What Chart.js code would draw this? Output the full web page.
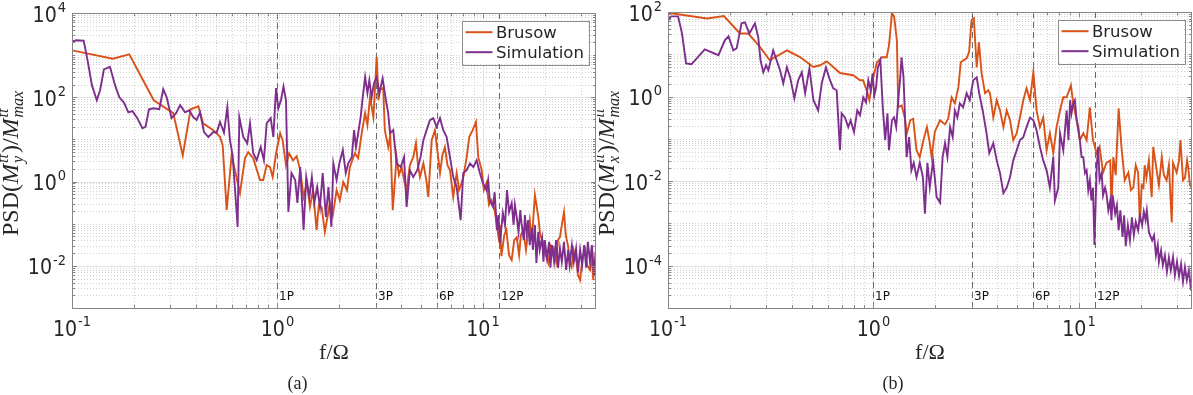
<!DOCTYPE html>
<html>
<head>
<meta charset="utf-8">
<script src="https://cdn.jsdelivr.net/npm/chart.js@4.4.1/dist/chart.umd.min.js"></script>
<style>
  body { margin: 0; background: #fff; width: 1193px; height: 395px; position: relative; overflow: hidden; }
  canvas { position: absolute; top: 0; }
  #chartA { left: 0; }
  #chartB { left: 597px; }
</style>
</head>
<body>
<canvas id="chartA" width="597" height="395"></canvas>
<canvas id="chartB" width="596" height="395"></canvas>
<script>
// ---- data (f/Omega, PSD) ----
const freqA_brusow = [0.1, 0.158, 0.19, 0.25, 0.311, 0.346, 0.378, 0.412, 0.435, 0.487,
  0.525, 0.541, 0.566, 0.598, 0.657, 0.695, 0.721, 0.762, 0.822, 0.853,
  0.886, 0.92, 0.948, 0.984, 1.03, 1.06, 1.1, 1.14, 1.19, 1.24,
  1.29, 1.34, 1.39, 1.44, 1.49, 1.55, 1.59, 1.64, 1.7, 1.8,
  1.86, 1.94, 2.01, 2.09, 2.18, 2.25, 2.38, 2.47, 2.57, 2.67,
  2.74, 2.82, 2.93, 3.04, 3.1, 3.15, 3.27, 3.33, 3.46, 3.54,
  3.64, 3.8, 3.9, 4.02, 4.13, 4.25, 4.41, 4.58, 4.72, 4.83,
  4.94, 5.13, 5.3, 5.42, 5.63, 5.84, 6.0, 6.18, 6.35, 6.53,
  6.72, 6.91, 7.17, 7.45, 7.65, 7.87, 8.07, 8.33, 8.58, 8.91,
  9.25, 9.49, 9.86, 10.1, 10.4, 10.7, 11.0, 11.4, 11.9, 12.1,
  12.3, 12.7, 13.0, 13.4, 13.8, 14.2, 14.6, 15.0, 15.3, 15.7,
  16.2, 16.6, 16.9, 17.3, 17.9, 18.6, 19.0, 19.7, 20.2, 20.8,
  21.4, 22.0, 22.7, 23.2, 23.7, 24.2, 24.8, 25.3, 26.0, 26.4,
  27.0, 27.6, 28.6, 29.0, 29.7, 30.5, 31.4, 32.1, 33.2, 34.0,
  34.4, 35.5];
const psdA_brusow = [1300, 820, 1050, 85, 42, 4.2, 52, 61, 24, 16.6,
  11.5, 7.3, 0.21, 4.2, 0.53, 3.6, 5.0, 3.6, 1.09, 1.09,
  2.46, 2.2, 1.28, 4.7, 14, 9.6, 2.46, 4.7, 3.2, 4.0,
  1.87, 0.43, 0.92, 0.25, 0.63, 0.071, 0.28, 0.25, 0.064, 0.31,
  0.16, 0.63, 0.36, 0.97, 0.63, 2.2, 4.7, 3.6, 14, 42,
  22, 100, 34, 900, 85, 147, 170, 16.6, 6.6, 12.6,
  0.21, 3.8, 1.43, 2.2, 1.09, 0.63, 2.46, 3.8, 8.1, 2.46,
  1.28, 2.7, 1.09, 0.43, 9.6, 16.6, 5.6, 1.6, 4.2, 6.6,
  2.46, 1.87, 0.43, 1.6, 0.63, 0.92, 1.43, 3.8, 11.4, 16.6,
  26, 3.8, 1.87, 0.63, 0.92, 0.28, 0.36, 0.21, 0.049, 0.093,
  0.017, 0.054, 0.071, 0.018, 0.0138, 0.041, 0.048, 0.018, 0.054, 0.071,
  0.024, 0.064, 0.122, 0.041, 0.48, 0.144, 0.054, 0.035, 0.018, 0.0117,
  0.031, 0.028, 0.0125, 0.041, 0.048, 0.093, 0.19, 0.054, 0.028, 0.0125,
  0.0095, 0.024, 0.0117, 0.0061, 0.0046, 0.015, 0.024, 0.0105, 0.008, 0.018,
  0.0046, 0.024];

const freqA_sim = [0.1, 0.105, 0.114, 0.119, 0.125, 0.132, 0.137, 0.143, 0.153, 0.162,
  0.17, 0.179, 0.188, 0.197, 0.208, 0.22, 0.228, 0.237, 0.249, 0.266,
  0.278, 0.289, 0.305, 0.321, 0.336, 0.355, 0.372, 0.389, 0.404, 0.42,
  0.439, 0.461, 0.487, 0.506, 0.525, 0.549, 0.57, 0.587, 0.605, 0.64,
  0.652, 0.682, 0.713, 0.735, 0.762, 0.792, 0.829, 0.859, 0.886, 0.927,
  0.955, 0.984, 1.01, 1.04, 1.07, 1.1, 1.13, 1.17, 1.22, 1.25,
  1.29, 1.34, 1.38, 1.43, 1.47, 1.51, 1.56, 1.61, 1.66, 1.72,
  1.77, 1.83, 1.87, 1.94, 2.0, 2.08, 2.15, 2.21, 2.3, 2.36,
  2.41, 2.47, 2.54, 2.6, 2.67, 2.74, 2.8, 2.87, 2.95, 3.04,
  3.13, 3.25, 3.37, 3.46, 3.53, 3.66, 3.8, 3.98, 4.13, 4.25,
  4.41, 4.58, 4.79, 4.97, 5.13, 5.32, 5.52, 5.73, 5.95, 6.18,
  6.41, 6.66, 6.91, 7.17, 7.45, 7.79, 8.02, 8.33, 8.65, 8.98,
  9.32, 9.66, 10.0, 10.4, 10.6, 10.8, 11.2, 11.4, 11.7, 11.9,
  12.1, 12.5, 12.8, 13.1, 13.4, 13.8, 14.1, 14.3, 14.6, 14.9,
  15.2, 15.4, 15.8, 16.0, 16.3, 16.6, 16.9, 17.3, 17.5, 17.9,
  18.2, 18.6, 18.9, 19.4, 19.7, 20.0, 20.5, 21.0, 21.3, 21.7,
  22.2, 22.7, 23.2, 23.7, 24.2, 24.8, 25.4, 26.0, 26.4, 27.1,
  27.7, 28.4, 29.0, 29.7, 30.4, 31.1, 31.8, 32.4, 33.2, 33.9,
  34.7, 35.5];
const psdA_sim = [2100, 2250, 2200, 760, 194, 85, 147, 460, 530, 194,
  100, 75, 44, 47, 32, 18.5, 20, 52, 55, 52,
  155, 100, 32, 42, 65, 44, 49, 34, 29, 44,
  15, 11.4, 15, 14.5, 26, 14.5, 58, 9.6, 4.2, 0.084,
  34, 11.4, 8.1, 24, 4.7, 3.2, 6.6, 3.2, 24, 32,
  11.4, 165, 55, 85, 180, 85, 0.19, 1.6, 1.09, 0.31,
  2.2, 0.071, 1.28, 0.43, 1.28, 0.31, 0.74, 0.25, 1.6, 0.144,
  0.74, 0.084, 2.7, 1.09, 2.7, 5.6, 1.6, 2.7, 3.8, 16.6,
  6.6, 14, 34, 100, 300, 125, 254, 100, 215, 300,
  125, 280, 85, 42, 14, 16.6, 2.7, 2.2, 3.8, 0.25,
  1.87, 1.28, 1.87, 3.8, 9.6, 16.6, 28.7, 32, 20, 32,
  16.6, 11.4, 3.8, 1.28, 0.74, 0.122, 1.6, 1.87, 2.7, 2.2,
  3.2, 1.6, 0.92, 0.63, 1.09, 0.36, 0.25, 0.56, 0.071, 0.16,
  0.035, 0.18, 0.093, 0.63, 0.19, 0.31, 0.093, 0.28, 0.144, 0.064,
  0.21, 0.103, 0.041, 0.16, 0.06, 0.122, 0.031, 0.08, 0.024, 0.093,
  0.0117, 0.064, 0.024, 0.046, 0.0125, 0.041, 0.0153, 0.037, 0.009, 0.031,
  0.0125, 0.041, 0.009, 0.026, 0.0125, 0.037, 0.008, 0.024, 0.0105, 0.031,
  0.0125, 0.026, 0.0071, 0.024, 0.0105, 0.031, 0.009, 0.037, 0.0125, 0.031,
  0.0061, 0.024];

const freqB_brusow = [0.1, 0.155, 0.187, 0.224, 0.246, 0.28, 0.313, 0.379, 0.439, 0.509,
  0.55, 0.592, 0.637, 0.687, 0.797, 0.86, 0.89, 0.927, 0.955, 0.99,
  1.04, 1.1, 1.16, 1.19, 1.23, 1.26, 1.3, 1.32, 1.37, 1.42,
  1.45, 1.51, 1.56, 1.62, 1.68, 1.75, 1.82, 1.87, 1.92, 1.99,
  2.11, 2.23, 2.31, 2.4, 2.49, 2.59, 2.66, 2.74, 2.84, 2.92,
  3.0, 3.08, 3.18, 3.26, 3.36, 3.49, 3.62, 3.69, 3.83, 3.98,
  4.13, 4.29, 4.45, 4.62, 4.79, 4.98, 5.16, 5.36, 5.56, 5.78,
  6.0, 6.22, 6.46, 6.7, 6.96, 7.22, 7.5, 7.78, 8.09, 8.39,
  8.71, 9.14, 9.38, 9.75, 10.1, 10.5, 10.9, 11.3, 11.7, 12.2,
  12.6, 13.1, 13.6, 14.2, 14.4, 14.7, 15.1, 15.6, 16.1, 16.7,
  17.4, 17.9, 18.4, 18.9, 19.4, 19.8, 20.2, 20.6, 20.9, 21.3,
  21.9, 22.6, 23.0, 23.9, 24.5, 25.3, 25.9, 26.7, 27.4, 28.3,
  28.7, 29.9, 30.7, 31.2, 32.1, 32.8, 33.6, 34.0, 34.7, 35.4];
const psdB_brusow = [96, 70, 80, 31, 31, 14.9, 7.2, 12.4, 8.6, 5.0,
  5.5, 6.8, 5.0, 3.6, 3.2, 2.43, 2.43, 1.41, 0.82, 2.43,
  6.5, 8.5, 8.5, 16.3, 93, 79, 21.4, 0.56, 0.62, 0.32,
  0.128, 0.275, 0.3, 0.054, 0.037, 0.093, 0.19, 0.093, 0.037, 0.15,
  0.275, 0.22, 0.3, 0.96, 0.69, 1.67, 6.5, 7.2, 8.0, 11.2,
  64, 71, 4.9, 19.2, 3.55, 1.2, 1.41, 1.2, 0.32, 0.82,
  0.47, 0.19, 0.47, 0.275, 0.093, 0.136, 0.32, 0.82, 1.57, 0.82,
  3.8, 0.47, 0.19, 0.32, 0.054, 0.136, 0.046, 0.19, 0.47, 0.96,
  0.96, 1.85, 0.69, 0.275, 0.093, 0.136, 0.093, 0.56, 0.093, 0.046,
  0.065, 0.016, 0.027, 0.031, 0.0023, 0.037, 0.0138, 0.53, 0.065, 0.0105,
  0.016, 0.0061, 0.007, 0.0238, 0.016, 0.00105, 0.008, 0.007, 0.0238, 0.012,
  0.031, 0.0042, 0.065, 0.018, 0.008, 0.037, 0.0138, 0.0105, 0.0238, 0.00105,
  0.027, 0.016, 0.031, 0.093, 0.0105, 0.012, 0.031, 0.022, 0.008, 0.007];

const freqB_sim = [0.1, 0.1035, 0.112, 0.117, 0.1225, 0.13, 0.151, 0.176, 0.189, 0.197,
  0.208, 0.216, 0.228, 0.237, 0.249, 0.265, 0.275, 0.282, 0.291, 0.3,
  0.308, 0.325, 0.338, 0.351, 0.364, 0.379, 0.393, 0.412, 0.43, 0.448,
  0.465, 0.488, 0.51, 0.538, 0.56, 0.587, 0.61, 0.637, 0.662, 0.687,
  0.7, 0.726, 0.754, 0.774, 0.804, 0.834, 0.86, 0.892, 0.92, 0.944,
  0.969, 0.99, 1.01, 1.03, 1.05, 1.08, 1.11, 1.14, 1.17, 1.19,
  1.23, 1.26, 1.29, 1.32, 1.35, 1.37, 1.4, 1.42, 1.45, 1.49,
  1.53, 1.57, 1.62, 1.68, 1.74, 1.78, 1.83, 1.88, 1.95, 2.03,
  2.11, 2.17, 2.23, 2.29, 2.36, 2.43, 2.49, 2.56, 2.63, 2.73,
  2.84, 2.94, 3.06, 3.18, 3.27, 3.4, 3.55, 3.66, 3.83, 3.98,
  4.13, 4.29, 4.45, 4.62, 4.79, 4.98, 5.16, 5.36, 5.56, 5.78,
  6.0, 6.22, 6.46, 6.7, 6.96, 7.22, 7.5, 7.64, 7.93, 8.09,
  8.39, 8.71, 8.89, 9.06, 9.2, 9.38, 9.55, 9.75, 9.92, 10.1,
  10.3, 10.5, 10.7, 10.9, 11.1, 11.3, 11.5, 11.7, 11.9, 12.2,
  12.4, 12.6, 12.9, 13.1, 13.4, 13.6, 13.9, 14.2, 14.4, 14.6,
  15.0, 15.3, 15.6, 15.9, 16.3, 16.6, 16.9, 17.3, 17.7, 18.1,
  18.5, 18.9, 19.4, 19.8, 20.3, 20.7, 21.1, 21.4, 21.9, 22.7,
  23.2, 23.7, 24.2, 24.5, 25.1, 25.6, 26.2, 26.8, 27.4, 28.0,
  28.7, 29.3, 30.0, 30.7, 31.4, 32.1, 32.8, 33.5, 34.3, 35.1,
  35.5];
const psdB_sim = [61, 79, 79, 31, 6.1, 5.8, 13.1, 9.5, 21.4, 26.7,
  12.4, 13.9, 54, 57, 31, 54, 25, 7.2, 3.75, 5.5,
  4.2, 12.4, 7.2, 4.2, 2.06, 4.9, 2.86, 0.91, 2.43, 3.75,
  1.2, 4.7, 0.82, 0.47, 2.06, 4.9, 2.7, 1.57, 1.41, 0.054,
  0.4, 0.32, 0.19, 0.275, 0.145, 0.47, 0.36, 0.96, 0.73, 2.43,
  1.41, 3.55, 1.07, 1.66, 4.9, 7.2, 0.56, 0.093, 0.4, 0.054,
  0.275, 0.32, 0.19, 0.82, 2.86, 8.5, 2.86, 0.47, 0.037, 0.11,
  0.018, 0.027, 0.0124, 0.027, 0.0124, 0.0017, 0.027, 0.0072, 0.031, 0.0042,
  0.0031, 0.037, 0.079, 0.037, 0.19, 0.11, 0.47, 0.32, 0.69, 0.56,
  1.2, 0.82, 2.43, 2.86, 1.2, 0.47, 0.136, 0.046, 0.079, 0.031,
  0.0155, 0.0052, 0.007, 0.0124, 0.031, 0.054, 0.093, 0.11, 0.19, 0.32,
  0.275, 0.16, 0.064, 0.031, 0.018, 0.007, 0.037, 0.0035, 0.007, 0.136,
  0.054, 0.47, 0.093, 0.82, 0.4, 0.69, 0.82, 0.275, 0.19, 0.093,
  0.037, 0.037, 0.0155, 0.018, 0.0061, 0.0105, 0.0035, 0.007, 0.00031, 0.022,
  0.065, 0.0105, 0.0155, 0.0046, 0.007, 0.0052, 0.00205, 0.0035, 0.0012, 0.0046,
  0.0017, 0.0027, 0.00069, 0.00205, 0.00048, 0.00156, 0.00029, 0.00091, 0.0004, 0.0014,
  0.00053, 0.0011, 0.00069, 0.00156, 0.00091, 0.0019, 0.0012, 0.00205, 0.00062, 0.0004,
  0.00053, 0.000177, 0.00031, 0.000123, 0.00023, 0.000103, 0.000177, 0.000072, 0.000155, 0.000078,
  0.00016, 0.00006, 0.000123, 0.000057, 0.00011, 0.000042, 0.000092, 0.0000454, 0.000078, 0.000026,
  0.00006];

// axes / annotations
const xRange = [0.1, 35.5];
const xTickVals = [0.1, 1, 10];
const xTickExps = ['-1', '0', '1'];
const yRangeA = [1e-3, 1e4];
const yTickValsA = [0.01, 1, 100, 10000];
const yTickExpsA = ['-2', '0', '2', '4'];
const yRangeB = [1e-5, 1e2];
const yTickValsB = [0.0001, 0.01, 1, 100];
const yTickExpsB = ['-4', '-2', '0', '2'];
const harmonics = [1, 3, 6, 12];
const harmonicLabels = ['1P', '3P', '6P', '12P'];

const ORANGE = '#D95319';
const PURPLE = '#7E2F8E';
const AXIS_COLOR = '#868686';
const TEXT_COLOR = '#262626';
const TICK_FONT = '19px "DejaVu Sans"';
const EXP_FONT = '13px "DejaVu Sans"';
const STRETCH = 1.08;

function toPoints(fs, ps) {
  return fs.map((f, i) => ({ x: f, y: ps[i] }));
}

// every 1..9 x 10^d inside [min, max]; major = a labelled decade
function logSteps(min, max, majors) {
  const out = [];
  for (let d = Math.floor(Math.log10(min)); d <= Math.ceil(Math.log10(max)); d++) {
    for (let k = 1; k <= 9; k++) {
      const v = k * Math.pow(10, d);
      if (v < min * 0.999 || v > max * 1.001) continue;
      const major = k === 1 && majors.some(m => Math.abs(Math.log10(m) - d) < 1e-6);
      out.push({ v, major });
    }
  }
  return out;
}

function powerLabel(ctx, exp, x, yc, align) {
  ctx.font = TICK_FONT;
  const wb = ctx.measureText('10').width;
  ctx.font = EXP_FONT;
  const we = ctx.measureText(exp).width;
  const x0 = align === 'center' ? x - (wb + we + 1) / 2 : x - wb - we - 1;
  ctx.save();
  ctx.translate(0, yc);
  ctx.scale(1, STRETCH);
  ctx.fillStyle = TEXT_COLOR;
  ctx.textAlign = 'left';
  ctx.textBaseline = 'alphabetic';
  ctx.font = TICK_FONT;
  ctx.fillText('10', x0, 7);
  ctx.font = EXP_FONT;
  ctx.fillText(exp, x0 + wb + 1, -2);
  ctx.restore();
}

function drawYTitle(ctx, parts, x, y) {
  const R = '24px "Liberation Serif"';
  const I = 'italic 24px "Liberation Serif"';
  const S = 'italic 16px "Liberation Serif"';
  ctx.save();
  ctx.translate(x, y);
  ctx.rotate(-Math.PI / 2);
  ctx.fillStyle = TEXT_COLOR;
  ctx.textBaseline = 'alphabetic';
  ctx.textAlign = 'left';
  let cx = 0;
  parts.forEach(p => {
    if (p.sup !== undefined) {
      ctx.font = S;
      const w = Math.max(ctx.measureText(p.sup).width, ctx.measureText(p.sub).width);
      ctx.fillText(p.sup, cx + 1, -10);
      ctx.fillText(p.sub, cx + 1, 5);
      cx += w + 2;
    } else {
      ctx.font = p.italic ? I : R;
      ctx.fillText(p.t, cx, 0);
      cx += ctx.measureText(p.t).width;
    }
  });
  ctx.restore();
}

function makeDecor(panel) {
  return {
    id: 'decor',
    beforeDatasetsDraw(chart) {
      const { ctx, chartArea: a, scales: { x, y } } = chart;
      ctx.save();
      ctx.lineWidth = 1;
      const xs = logSteps(xRange[0], xRange[1], xTickVals);
      const ys = logSteps(panel.yRange[0], panel.yRange[1], panel.yTickVals);
      // minor grid, dotted
      ctx.strokeStyle = '#d0d0d0';
      ctx.setLineDash([1, 2]);
      ctx.beginPath();
      xs.filter(s => !s.major).forEach(s => {
        const px = Math.round(x.getPixelForValue(s.v)) + 0.5;
        ctx.moveTo(px, a.top); ctx.lineTo(px, a.bottom);
      });
      ys.filter(s => !s.major).forEach(s => {
        const py = Math.round(y.getPixelForValue(s.v)) + 0.5;
        ctx.moveTo(a.left, py); ctx.lineTo(a.right, py);
      });
      ctx.stroke();
      // major grid, solid
      ctx.setLineDash([]);
      ctx.strokeStyle = '#e2e2e2';
      ctx.beginPath();
      xs.filter(s => s.major).forEach(s => {
        const px = Math.round(x.getPixelForValue(s.v)) + 0.5;
        ctx.moveTo(px, a.top); ctx.lineTo(px, a.bottom);
      });
      ys.filter(s => s.major).forEach(s => {
        const py = Math.round(y.getPixelForValue(s.v)) + 0.5;
        ctx.moveTo(a.left, py); ctx.lineTo(a.right, py);
      });
      ctx.stroke();
      // harmonic markers
      ctx.strokeStyle = '#6a6a6a';
      ctx.setLineDash([6, 4]);
      ctx.font = '12px "DejaVu Sans"';
      ctx.fillStyle = '#111';
      ctx.textBaseline = 'alphabetic';
      harmonics.forEach((h, i) => {
        const px = Math.round(x.getPixelForValue(h)) + 0.5;
        ctx.beginPath();
        ctx.moveTo(px, a.top); ctx.lineTo(px, a.bottom);
        ctx.stroke();
        ctx.fillText(harmonicLabels[i], px + 1.5, a.bottom - 8);
      });
      ctx.restore();
    },
    afterDatasetsDraw(chart) {
      const { ctx, chartArea: a, scales: { x, y } } = chart;
      ctx.save();
      ctx.lineWidth = 1;
      ctx.setLineDash([]);
      ctx.strokeStyle = AXIS_COLOR;
      // ticks (inside, all four sides)
      ctx.beginPath();
      logSteps(xRange[0], xRange[1], xTickVals).forEach(s => {
        const px = Math.round(x.getPixelForValue(s.v)) + 0.5;
        const len = s.major ? 5 : 3;
        ctx.moveTo(px, a.bottom); ctx.lineTo(px, a.bottom - len);
        ctx.moveTo(px, a.top); ctx.lineTo(px, a.top + len);
      });
      logSteps(panel.yRange[0], panel.yRange[1], panel.yTickVals).forEach(s => {
        const py = Math.round(y.getPixelForValue(s.v)) + 0.5;
        const len = s.major ? 5 : 3;
        ctx.moveTo(a.left, py); ctx.lineTo(a.left + len, py);
        ctx.moveTo(a.right, py); ctx.lineTo(a.right - len, py);
      });
      ctx.stroke();
      // box
      ctx.strokeRect(Math.round(a.left) + 0.5, Math.round(a.top) + 0.5,
        Math.round(a.right - a.left) - 1, Math.round(a.bottom - a.top));

      // legend
      const lx = a.right - 134.5, ly = a.top + 7.5, lw = 126.5, lh = 43.5;
      ctx.fillStyle = '#fff';
      ctx.fillRect(lx, ly, lw, lh);
      ctx.strokeStyle = '#8c8c8c';
      ctx.strokeRect(Math.round(lx) + 0.5, Math.round(ly) + 0.5, Math.round(lw), Math.round(lh));
      const order = ['Brusow', 'Simulation'];
      ctx.font = '16.5px "DejaVu Sans"';
      ctx.textBaseline = 'alphabetic';
      order.forEach((name, i) => {
        const ds = chart.data.datasets.find(d => d.label === name);
        const rowY = ly + 11.7 + i * 20;
        ctx.strokeStyle = ds.borderColor;
        ctx.lineWidth = 2;
        ctx.beginPath();
        ctx.moveTo(lx + 4, rowY); ctx.lineTo(lx + 31, rowY);
        ctx.stroke();
        ctx.fillStyle = TEXT_COLOR;
        ctx.fillText(name, lx + 34.5, rowY + 6);
      });

      // tick labels
      xTickVals.forEach((v, i) => powerLabel(ctx, xTickExps[i], x.getPixelForValue(v), a.bottom + 20.5, 'center'));
      panel.yTickVals.forEach((v, i) => powerLabel(ctx, panel.yTickExps[i], a.left - 6, y.getPixelForValue(v) + 1, 'right'));

      // axis titles
      ctx.fillStyle = TEXT_COLOR;
      ctx.font = '22px "Liberation Serif"';
      ctx.textAlign = 'center';
      ctx.fillText('f/\u03A9', (a.left + a.right) / 2, 359);
      drawYTitle(ctx, panel.yTitle, a.left - 54.5, 236);

      // caption
      ctx.font = '18px "Liberation Serif"';
      ctx.textAlign = 'center';
      ctx.fillText(panel.caption, panel.captionX, 389);
      ctx.restore();
    }
  };
}

function makeChart(id, panel) {
  return new Chart(document.getElementById(id), {
    type: 'line',
    data: {
      datasets: [
        { label: 'Brusow', data: toPoints(panel.brusowF, panel.brusowP), borderColor: ORANGE, order: 2 },
        { label: 'Simulation', data: toPoints(panel.simF, panel.simP), borderColor: PURPLE, order: 1 }
      ]
    },
    options: {
      responsive: false,
      animation: false,
      devicePixelRatio: 1,
      layout: { padding: panel.padding },
      plugins: { legend: { display: false }, tooltip: { enabled: false } },
      elements: {
        point: { radius: 0 },
        line: { borderWidth: 1.9, tension: 0, fill: false }
      },
      scales: {
        x: { type: 'logarithmic', display: false, bounds: 'data', min: xRange[0], max: xRange[1] },
        y: { type: 'logarithmic', display: false, bounds: 'data', min: panel.yRange[0], max: panel.yRange[1] }
      }
    },
    plugins: [makeDecor(panel)]
  });
}

makeChart('chartA', {
  brusowF: freqA_brusow, brusowP: psdA_brusow, simF: freqA_sim, simP: psdA_sim,
  yRange: yRangeA, yTickVals: yTickValsA, yTickExps: yTickExpsA,
  padding: { left: 72, top: 13, right: 1, bottom: 87 },
  yTitle: [{ t: 'PSD(' }, { t: 'M', italic: true }, { sup: 'tt', sub: 'y' }, { t: ')/' },
           { t: 'M', italic: true }, { sup: 'tt', sub: 'max' }],
  caption: '(a)', captionX: 297.5
});

makeChart('chartB', {
  brusowF: freqB_brusow, brusowP: psdB_brusow, simF: freqB_sim, simP: psdB_sim,
  yRange: yRangeB, yTickVals: yTickValsB, yTickExps: yTickExpsB,
  padding: { left: 71, top: 12, right: 1, bottom: 87 },
  yTitle: [{ t: 'PSD(' }, { t: 'M', italic: true }, { sup: 'tt', sub: 'x' }, { t: ')/' },
           { t: 'M', italic: true }, { sup: 'tt', sub: 'max' }],
  caption: '(b)', captionX: 296
});
</script>
</body>
</html>
